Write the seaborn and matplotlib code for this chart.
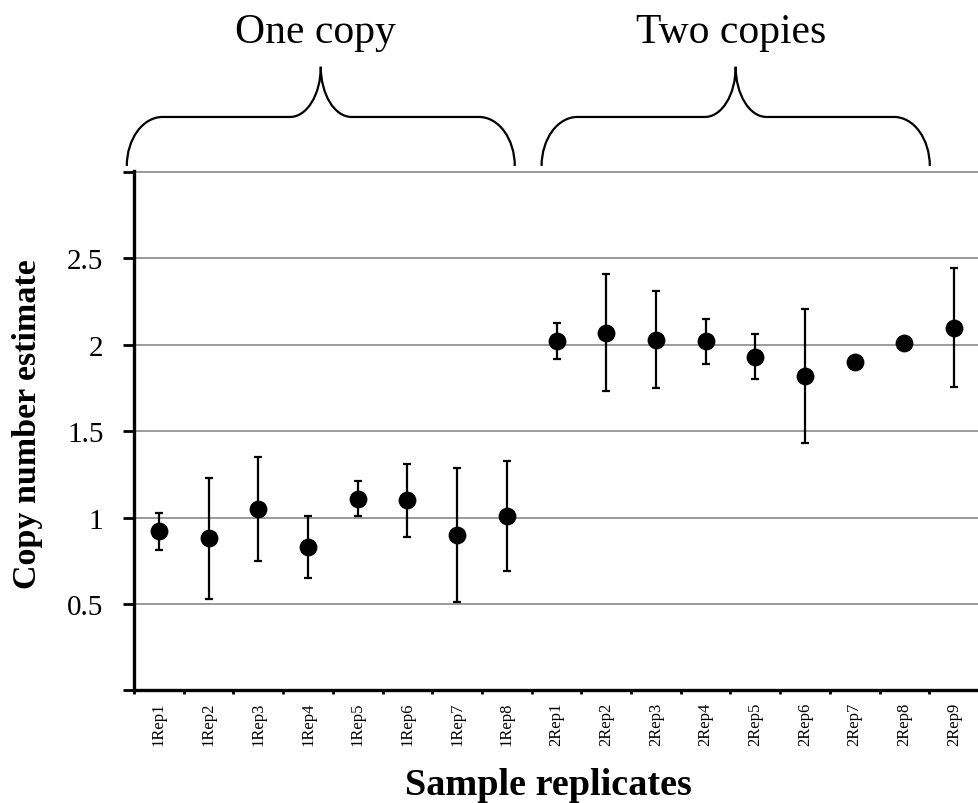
import numpy as np
import pandas as pd
import matplotlib
matplotlib.use("Agg")
import matplotlib.pyplot as plt
import matplotlib.transforms as mtransforms
from matplotlib.path import Path
from matplotlib.patches import PathPatch
import seaborn as sns

# ---------------------------
# Data
# ---------------------------
samples = [
    "1Rep1", "1Rep2", "1Rep3", "1Rep4", "1Rep5", "1Rep6", "1Rep7", "1Rep8",
    "2Rep1", "2Rep2", "2Rep3", "2Rep4", "2Rep5", "2Rep6", "2Rep7", "2Rep8", "2Rep9",
]
estimates = [0.92, 0.88, 1.05, 0.83, 1.11, 1.10, 0.90, 1.01,
             2.02, 2.07, 2.03, 2.02, 1.93, 1.82, 1.90, 2.01, 2.10]
errors = [0.105, 0.35, 0.30, 0.18, 0.10, 0.21, 0.39, 0.32,
          0.105, 0.34, 0.28, 0.13, 0.13, 0.39, 0.0, 0.0, 0.345]
group_names = ["One copy", "Two copies"]
group_sizes = [8, 9]

y_ticks = [0, 0.5, 1, 1.5, 2, 2.5, 3]
y_tick_labels = ["", "0.5", "1", "1.5", "2", "2.5", ""]

df = pd.DataFrame({"sample": samples, "estimate": estimates, "error": errors})
df["pos"] = np.arange(len(df))

sns.set_style("white")
plt.rcParams["font.family"] = ["Liberation Serif", "DejaVu Serif"]
plt.rcParams["text.color"] = "black"
plt.rcParams["axes.labelcolor"] = "black"
plt.rcParams["xtick.color"] = "black"
plt.rcParams["ytick.color"] = "black"

fig = plt.figure(figsize=(9.79, 8.04), dpi=100)
ax = fig.add_axes([0.1369, 0.140, 0.8631, 0.6455])

# error bars first, dots on top
ax.errorbar(df["pos"], df["estimate"], yerr=df["error"], fmt="none",
            ecolor="black", elinewidth=1.6, capsize=3.2, capthick=1.6, zorder=2)
sns.scatterplot(data=df, x="pos", y="estimate", ax=ax, color="black",
                s=165, edgecolor="black", linewidth=0, zorder=3, legend=False)

ax.set_xlim(-0.5, 16.33)
ax.set_ylim(0, 3.003)

# y axis
ax.set_yticks(y_ticks)
ax.set_yticklabels(y_tick_labels, fontsize=21)
ax.yaxis.grid(True, color="#7f7f7f", linewidth=1.1)
ax.set_axisbelow(True)
ax.tick_params(axis="y", direction="out", length=8, width=2, pad=14, left=True)

# x axis: labels at category centres, tick marks at boundaries
ax.set_xticks(df["pos"])
ax.set_xticklabels(df["sample"], rotation=90, fontsize=12)
ax.set_xticks(np.arange(-0.5, len(df), 1.0), minor=True)
ax.tick_params(axis="x", which="major", length=0, pad=8)
ax.tick_params(axis="x", which="minor", direction="out", length=3, width=2, bottom=True)

for side in ["top", "right"]:
    ax.spines[side].set_visible(False)
for side in ["left", "bottom"]:
    ax.spines[side].set_color("black")
    ax.spines[side].set_linewidth(2.4)

ax.set_ylabel("Copy number estimate", fontsize=24.5, fontweight="bold")
ax.yaxis.set_label_coords(-0.108, 0.516)
ax.set_xlabel("Sample replicates", fontsize=27.5, fontweight="bold")
ax.xaxis.set_label_coords(0.49, -0.147)

# ---------------------------
# Curly braces over each group
# ---------------------------
trans = mtransforms.blended_transform_factory(ax.transData, ax.transAxes)
y_end, y_flat, y_peak = 1.0106, 1.105, 1.2017
corner, tip = 0.72, 0.62
k = 0.552
brace_spans = [(-0.645, 7.16), (7.70, 15.51)]


def brace_path(x0, x1):
    xm = (x0 + x1) / 2
    verts = [
        (x0, y_end),
        (x0, y_end + k * (y_flat - y_end)), (x0 + corner - k * corner, y_flat), (x0 + corner, y_flat),
        (xm - tip, y_flat),
        (xm - tip + k * tip, y_flat), (xm, y_peak - k * (y_peak - y_flat)), (xm, y_peak),
        (xm, y_peak - k * (y_peak - y_flat)), (xm + tip - k * tip, y_flat), (xm + tip, y_flat),
        (x1 - corner, y_flat),
        (x1 - corner + k * corner, y_flat), (x1, y_end + k * (y_flat - y_end)), (x1, y_end),
    ]
    codes = [Path.MOVETO,
             Path.CURVE4, Path.CURVE4, Path.CURVE4,
             Path.LINETO,
             Path.CURVE4, Path.CURVE4, Path.CURVE4,
             Path.CURVE4, Path.CURVE4, Path.CURVE4,
             Path.LINETO,
             Path.CURVE4, Path.CURVE4, Path.CURVE4]
    return Path(verts, codes)


for (x0, x1), name in zip(brace_spans, group_names):
    patch = PathPatch(brace_path(x0, x1), transform=trans, fill=False,
                      edgecolor="black", linewidth=1.6, clip_on=False)
    ax.add_patch(patch)
    ax.text((x0 + x1) / 2 - 0.1, 1.2495, name, transform=trans, ha="center",
            va="baseline", fontsize=30)

fig.savefig("out.png", dpi=100)
